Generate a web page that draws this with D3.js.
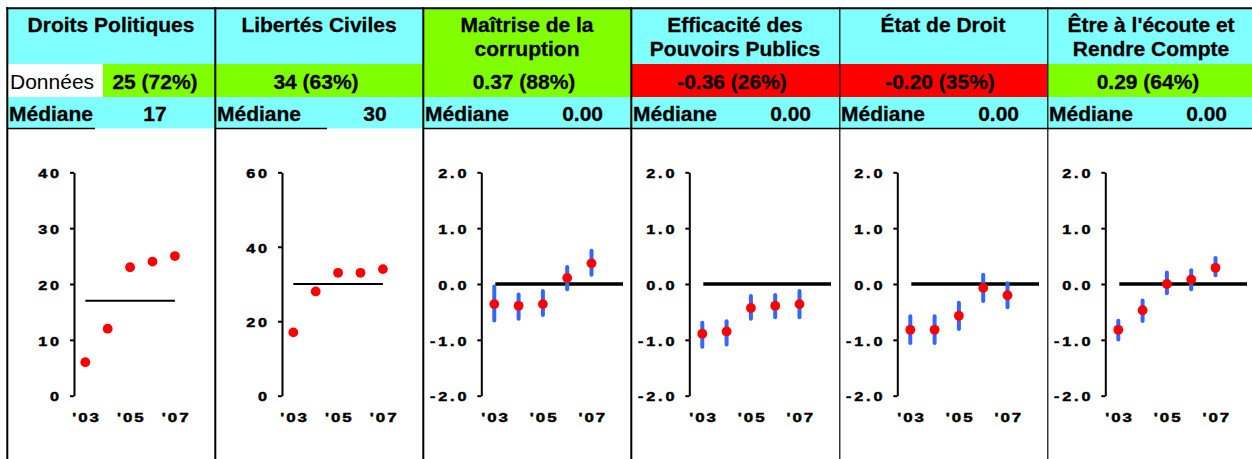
<!DOCTYPE html>
<html><head><meta charset="utf-8">
<script src="https://cdn.jsdelivr.net/npm/d3@7"></script>
<style>
html,body{margin:0;padding:0;background:#fff;}
svg{display:block;}
.hdr{font-family:"Liberation Sans",Arial,sans-serif;font-weight:bold;font-size:21px;fill:#000;stroke:#000;stroke-width:0.3px;}
.reg{font-weight:normal;stroke-width:0;}
</style></head><body>
<svg id="c" width="1252" height="459"></svg>
<script>
// ---------- DATA ----------
const titles = [
  ["Droits Politiques"],
  ["Libertés Civiles"],
  ["Maîtrise de la", "corruption"],
  ["Efficacité des", "Pouvoirs Publics"],
  ["État de Droit"],
  ["Être à l'écoute et", "Rendre Compte"]
];
const latestValues = [25, 34, 0.37, -0.36, -0.20, 0.29];
const percentiles = [72, 63, 88, 26, 35, 64];
const medians = [17, 30, 0.00, 0.00, 0.00, 0.00];
const years = ["'03", "'04", "'05", "'06", "'07"];
const yearTicks = ["'03", "'05", "'07"];
const yDomains = [[0, 40], [0, 60], [-2, 2], [-2, 2], [-2, 2], [-2, 2]];
const yTicks = [[0, 10, 20, 30, 40], [0, 20, 40, 60], [-2, -1, 0, 1, 2], [-2, -1, 0, 1, 2], [-2, -1, 0, 1, 2], [-2, -1, 0, 1, 2]];

const politicalRights = [6, 12, 23, 24, 25];
const civilLiberties = [17, 28, 33, 33, 34];
const controlCorruption = [-0.36, -0.39, -0.36, 0.11, 0.37];
const controlCorruptionLo = [-0.69, -0.66, -0.59, -0.13, 0.13];
const controlCorruptionHi = [-0.01, -0.15, -0.09, 0.34, 0.63];
const govEffectiveness = [-0.89, -0.85, -0.43, -0.39, -0.36];
const govEffectivenessLo = [-1.16, -1.12, -0.66, -0.63, -0.63];
const govEffectivenessHi = [-0.66, -0.63, -0.18, -0.16, -0.09];
const ruleOfLaw = [-0.82, -0.82, -0.57, -0.07, -0.20];
const ruleOfLawLo = [-1.09, -1.09, -0.84, -0.34, -0.45];
const ruleOfLawHi = [-0.54, -0.54, -0.30, 0.20, 0.05];
const voiceAccount = [-0.82, -0.47, 0.00, 0.08, 0.29];
const voiceAccountLo = [-1.03, -0.70, -0.20, -0.13, 0.12];
const voiceAccountHi = [-0.62, -0.26, 0.24, 0.28, 0.50];

const series = [politicalRights, civilLiberties, controlCorruption, govEffectiveness, ruleOfLaw, voiceAccount];
const seriesLo = [null, null, controlCorruptionLo, govEffectivenessLo, ruleOfLawLo, voiceAccountLo];
const seriesHi = [null, null, controlCorruptionHi, govEffectivenessHi, ruleOfLawHi, voiceAccountHi];

// ---------- DRAW ----------
const CYAN = "#80FFFF", GREEN = "#80FF00", RED = "#FF0000", BLUE = "#3366FF";
const svg = d3.select("#c");
const pw = 208, x0 = 7;
const best = percentiles.indexOf(d3.max(percentiles));
const isScore = i => i < 2;
const hy = f => v => f(v).replace("\u2212", "-");
const fmtVal = i => hy(isScore(i) ? d3.format("d") : d3.format(".2f"));
const TICKFONT = '"Liberation Sans", Arial, sans-serif';
const SX = 1.3;

titles.forEach((lines, i) => {
  const left = x0 + i * pw;
  const g = svg.append("g");
  g.append("rect").attr("x", left).attr("y", 9).attr("width", pw).attr("height", 55)
    .attr("fill", i === best ? GREEN : CYAN);
  const statusColor = percentiles[i] > 50 ? GREEN : RED;
  if (i === 0) {
    g.append("rect").attr("x", left).attr("y", 64).attr("width", 96).attr("height", 33).attr("fill", "#fff");
    g.append("rect").attr("x", left + 96).attr("y", 64).attr("width", pw - 96).attr("height", 33).attr("fill", statusColor);
  } else {
    g.append("rect").attr("x", left).attr("y", 64).attr("width", pw).attr("height", 33).attr("fill", statusColor);
  }
  g.append("rect").attr("x", left).attr("y", 97).attr("width", pw).attr("height", 31.5).attr("fill", CYAN);

  lines.forEach((t, k) => {
    g.append("text").attr("class", "hdr").attr("x", left + pw / 2).attr("y", 32.3 + k * 23.3)
      .attr("text-anchor", "middle").text(t);
  });
  const label = `${fmtVal(i)(latestValues[i])} (${percentiles[i]}%)`;
  if (i === 0) {
    g.append("text").attr("class", "hdr reg").attr("x", left + 3).attr("y", 88.5).text("Données");
  }
  g.append("text").attr("class", "hdr").attr("text-anchor", "middle")
    .attr("x", i === 0 ? left + 148 : left + pw / 2 - 3).attr("y", 88.5).text(label);
  g.append("text").attr("class", "hdr").attr("x", left + 2).attr("y", 120.5).text("Médiane");
  const mv = fmtVal(i)(medians[i]);
  if (i === 0) g.append("text").attr("class", "hdr").attr("text-anchor", "middle").attr("x", left + 148).attr("y", 120.5).text(mv);
  else if (i === 1) g.append("text").attr("class", "hdr").attr("text-anchor", "middle").attr("x", left + 160).attr("y", 120.5).text(mv);
  else g.append("text").attr("class", "hdr").attr("text-anchor", "end").attr("x", left + 180).attr("y", 120.5).text(mv);
  const ulw = i === 0 ? 88 : (i === 1 ? 112 : pw);
  g.append("line").attr("x1", left).attr("x2", left + ulw).attr("y1", 128.5).attr("y2", 128.5)
    .attr("stroke", "#000").attr("stroke-width", 1.5);

  // ---- chart ----
  const axisX = isScore(i) ? left + 67 : left + 58.3;
  const step = isScore(i) ? 22.4 : 24.3;
  const first = axisX + (isScore(i) ? 11.3 : 13);
  const x = d3.scalePoint().domain(years).range([first, first + 4 * step]);
  const y = d3.scaleLinear().domain(yDomains[i]).range([395.7, 172.3]);

  const ya = g.append("g").attr("transform", `translate(${axisX},0)`)
    .call(d3.axisLeft(y).tickValues(yTicks[i]).tickSize(4).tickSizeOuter(0).tickPadding(8.5)
      .tickFormat(hy(isScore(i) ? d3.format("d") : d3.format(".1f"))));
  ya.select(".domain").attr("stroke", "#000").attr("stroke-width", 2);
  ya.selectAll(".tick line").attr("stroke", "#000").attr("stroke-width", 2);
  ya.selectAll(".tick text").attr("dy", "0.42em").attr("x", -12 / SX)
    .attr("transform", `scale(${SX},1)`)
    .style("font-family", TICKFONT).style("font-weight", "bold").style("font-size", "12.5px")
    .style("letter-spacing", "2.2px").style("fill", "#000")
    .style("stroke", "#000").style("stroke-width", "0.45px");

  const xa = g.append("g").attr("transform", `translate(0,395.7)`)
    .call(d3.axisBottom(x).tickValues(yearTicks).tickSize(0).tickPadding(17));
  xa.select(".domain").remove();
  xa.selectAll(".tick text").attr("dx", "0.6")
    .attr("transform", `scale(${SX},1)`)
    .style("font-family", TICKFONT).style("font-weight", "bold").style("font-size", "13px")
    .style("letter-spacing", "1.5px").style("fill", "#000")
    .style("stroke", "#000").style("stroke-width", "0.45px");

  if (isScore(i)) {
    g.append("line").attr("x1", x(years[0])).attr("x2", x(years[4]))
      .attr("y1", y(medians[i])).attr("y2", y(medians[i]))
      .attr("stroke", "#000").attr("stroke-width", 2);
  } else {
    g.append("line").attr("x1", x(years[0]) + 1).attr("x2", x(years[4]) + 31.5)
      .attr("y1", y(medians[i])).attr("y2", y(medians[i]))
      .attr("stroke", "#000").attr("stroke-width", 3.5);
  }
  if (seriesLo[i]) {
    g.selectAll(".eb").data(years).enter().append("line")
      .attr("x1", d => x(d)).attr("x2", d => x(d))
      .attr("y1", (d, j) => y(seriesHi[i][j]) + 2).attr("y2", (d, j) => y(seriesLo[i][j]) - 2)
      .attr("stroke", BLUE).attr("stroke-width", 4).attr("stroke-linecap", "round");
  }
  g.selectAll(".pt").data(series[i]).enter().append("circle")
    .attr("cx", (d, j) => x(years[j])).attr("cy", d => y(d)).attr("r", 4.9).attr("fill", RED);
});

svg.append("line").attr("x1", x0 - 1).attr("x2", 1252).attr("y1", 8.3).attr("y2", 8.3)
  .attr("stroke", "#000").attr("stroke-width", 2);
d3.range(6).forEach(i => {
  const xx = x0 + i * pw;
  svg.append("line").attr("x1", xx + (i < 4 ? 0.3 : 0.8)).attr("x2", xx + (i < 4 ? 0.3 : 0.8))
    .attr("y1", 7.3).attr("y2", 459)
    .attr("stroke", "#000").attr("stroke-width", i < 4 ? 2 : 1.2);
});
</script>
</body></html>
